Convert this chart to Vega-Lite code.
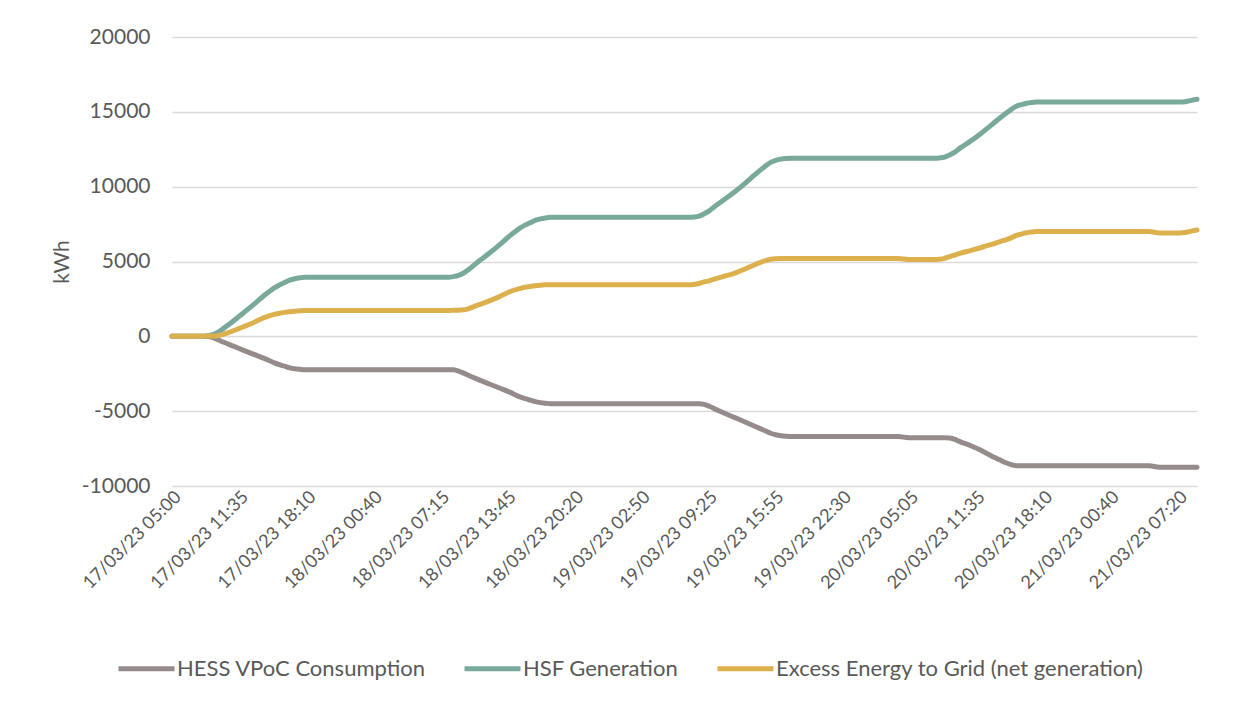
{
  "$schema": "https://vega.github.io/schema/vega-lite/v6.json",
  "width": 1025,
  "height": 449,
  "autosize": {"type": "none"},
  "padding": {"left": 172, "top": 37, "right": 44, "bottom": 216},
  "background": "white",
  "config": {"view": {"stroke": null}, "font": "Lato"},
  "data": {"values": [
    {"t": "2023-03-17T05:00", "hess": 0, "hsf": 0, "excess": 0},
    {"t": "2023-03-17T08:00", "hess": 0, "hsf": 0, "excess": 0},
    {"t": "2023-03-17T08:30", "hess": -10, "hsf": 40, "excess": 30},
    {"t": "2023-03-17T09:00", "hess": -90, "hsf": 120, "excess": 30},
    {"t": "2023-03-17T09:30", "hess": -230, "hsf": 275, "excess": 45},
    {"t": "2023-03-17T10:00", "hess": -380, "hsf": 515, "excess": 135},
    {"t": "2023-03-17T11:00", "hess": -655, "hsf": 1030, "excess": 375},
    {"t": "2023-03-17T12:00", "hess": -935, "hsf": 1580, "excess": 645},
    {"t": "2023-03-17T13:00", "hess": -1205, "hsf": 2135, "excess": 930},
    {"t": "2023-03-17T14:00", "hess": -1470, "hsf": 2725, "excess": 1255},
    {"t": "2023-03-17T15:00", "hess": -1770, "hsf": 3240, "excess": 1470},
    {"t": "2023-03-17T15:30", "hess": -1890, "hsf": 3435, "excess": 1545},
    {"t": "2023-03-17T16:00", "hess": -1995, "hsf": 3595, "excess": 1600},
    {"t": "2023-03-17T16:30", "hess": -2105, "hsf": 3750, "excess": 1645},
    {"t": "2023-03-17T17:00", "hess": -2170, "hsf": 3850, "excess": 1680},
    {"t": "2023-03-17T17:30", "hess": -2205, "hsf": 3910, "excess": 1705},
    {"t": "2023-03-17T18:00", "hess": -2230, "hsf": 3950, "excess": 1720},
    {"t": "2023-03-18T07:30", "hess": -2230, "hsf": 3950, "excess": 1720},
    {"t": "2023-03-18T08:00", "hess": -2230, "hsf": 3950, "excess": 1720},
    {"t": "2023-03-18T08:30", "hess": -2240, "hsf": 3990, "excess": 1750},
    {"t": "2023-03-18T09:00", "hess": -2320, "hsf": 4070, "excess": 1750},
    {"t": "2023-03-18T09:30", "hess": -2460, "hsf": 4230, "excess": 1770},
    {"t": "2023-03-18T10:00", "hess": -2615, "hsf": 4470, "excess": 1855},
    {"t": "2023-03-18T11:00", "hess": -2910, "hsf": 5030, "excess": 2120},
    {"t": "2023-03-18T12:00", "hess": -3185, "hsf": 5550, "excess": 2365},
    {"t": "2023-03-18T13:00", "hess": -3455, "hsf": 6110, "excess": 2655},
    {"t": "2023-03-18T14:00", "hess": -3730, "hsf": 6710, "excess": 2980},
    {"t": "2023-03-18T15:00", "hess": -4040, "hsf": 7230, "excess": 3190},
    {"t": "2023-03-18T15:30", "hess": -4155, "hsf": 7430, "excess": 3275},
    {"t": "2023-03-18T16:00", "hess": -4255, "hsf": 7590, "excess": 3335},
    {"t": "2023-03-18T16:30", "hess": -4365, "hsf": 7750, "excess": 3385},
    {"t": "2023-03-18T17:00", "hess": -4430, "hsf": 7850, "excess": 3420},
    {"t": "2023-03-18T17:30", "hess": -4470, "hsf": 7910, "excess": 3440},
    {"t": "2023-03-18T18:00", "hess": -4500, "hsf": 7950, "excess": 3450},
    {"t": "2023-03-19T07:30", "hess": -4500, "hsf": 7950, "excess": 3450},
    {"t": "2023-03-19T08:00", "hess": -4500, "hsf": 7970, "excess": 3470},
    {"t": "2023-03-19T08:30", "hess": -4500, "hsf": 8030, "excess": 3530},
    {"t": "2023-03-19T09:00", "hess": -4545, "hsf": 8185, "excess": 3640},
    {"t": "2023-03-19T09:30", "hess": -4675, "hsf": 8385, "excess": 3710},
    {"t": "2023-03-19T10:00", "hess": -4830, "hsf": 8660, "excess": 3830},
    {"t": "2023-03-19T11:00", "hess": -5140, "hsf": 9160, "excess": 4020},
    {"t": "2023-03-19T12:00", "hess": -5430, "hsf": 9660, "excess": 4230},
    {"t": "2023-03-19T13:00", "hess": -5720, "hsf": 10220, "excess": 4500},
    {"t": "2023-03-19T14:00", "hess": -6020, "hsf": 10820, "excess": 4800},
    {"t": "2023-03-19T15:00", "hess": -6320, "hsf": 11380, "excess": 5060},
    {"t": "2023-03-19T15:30", "hess": -6475, "hsf": 11625, "excess": 5150},
    {"t": "2023-03-19T16:00", "hess": -6575, "hsf": 11760, "excess": 5185},
    {"t": "2023-03-19T16:30", "hess": -6640, "hsf": 11840, "excess": 5200},
    {"t": "2023-03-19T17:00", "hess": -6680, "hsf": 11880, "excess": 5200},
    {"t": "2023-03-19T17:30", "hess": -6700, "hsf": 11900, "excess": 5200},
    {"t": "2023-03-19T18:00", "hess": -6700, "hsf": 11900, "excess": 5200},
    {"t": "2023-03-20T04:00", "hess": -6700, "hsf": 11900, "excess": 5200},
    {"t": "2023-03-20T05:00", "hess": -6770, "hsf": 11900, "excess": 5130},
    {"t": "2023-03-20T07:30", "hess": -6770, "hsf": 11900, "excess": 5130},
    {"t": "2023-03-20T08:00", "hess": -6770, "hsf": 11920, "excess": 5150},
    {"t": "2023-03-20T08:30", "hess": -6770, "hsf": 11975, "excess": 5205},
    {"t": "2023-03-20T09:00", "hess": -6795, "hsf": 12125, "excess": 5330},
    {"t": "2023-03-20T09:30", "hess": -6880, "hsf": 12310, "excess": 5430},
    {"t": "2023-03-20T10:00", "hess": -7035, "hsf": 12575, "excess": 5540},
    {"t": "2023-03-20T11:00", "hess": -7295, "hsf": 13025, "excess": 5730},
    {"t": "2023-03-20T12:00", "hess": -7600, "hsf": 13520, "excess": 5920},
    {"t": "2023-03-20T13:00", "hess": -7960, "hsf": 14080, "excess": 6120},
    {"t": "2023-03-20T14:00", "hess": -8290, "hsf": 14640, "excess": 6350},
    {"t": "2023-03-20T14:30", "hess": -8450, "hsf": 14900, "excess": 6450},
    {"t": "2023-03-20T15:00", "hess": -8570, "hsf": 15150, "excess": 6580},
    {"t": "2023-03-20T15:30", "hess": -8640, "hsf": 15380, "excess": 6740},
    {"t": "2023-03-20T16:00", "hess": -8650, "hsf": 15480, "excess": 6830},
    {"t": "2023-03-20T16:30", "hess": -8650, "hsf": 15570, "excess": 6920},
    {"t": "2023-03-20T17:00", "hess": -8650, "hsf": 15625, "excess": 6975},
    {"t": "2023-03-20T17:30", "hess": -8650, "hsf": 15650, "excess": 7000},
    {"t": "2023-03-20T18:00", "hess": -8650, "hsf": 15650, "excess": 7000},
    {"t": "2023-03-21T04:30", "hess": -8650, "hsf": 15650, "excess": 7000},
    {"t": "2023-03-21T05:30", "hess": -8740, "hsf": 15650, "excess": 6910},
    {"t": "2023-03-21T07:30", "hess": -8740, "hsf": 15650, "excess": 6910},
    {"t": "2023-03-21T08:00", "hess": -8740, "hsf": 15680, "excess": 6940},
    {"t": "2023-03-21T08:30", "hess": -8740, "hsf": 15750, "excess": 7010},
    {"t": "2023-03-21T09:10", "hess": -8740, "hsf": 15840, "excess": 7100}
  ]},
  "transform": [{"fold": ["hess", "hsf", "excess"], "as": ["series", "kWh"]}],
  "mark": {"type": "line", "interpolate": "monotone", "strokeWidth": 5, "strokeCap": "round", "strokeJoin": "round"},
  "encoding": {
    "x": {
      "field": "t", "type": "temporal",
      "scale": {"domain": [
        {"year": 2023, "month": 3, "date": 17, "hours": 5, "minutes": 0},
        {"year": 2023, "month": 3, "date": 21, "hours": 9, "minutes": 10}
      ]},
      "axis": {
        "title": null,
        "values": [
          {"year": 2023, "month": 3, "date": 17, "hours": 5, "minutes": 0},
          {"year": 2023, "month": 3, "date": 17, "hours": 11, "minutes": 35},
          {"year": 2023, "month": 3, "date": 17, "hours": 18, "minutes": 10},
          {"year": 2023, "month": 3, "date": 18, "hours": 0, "minutes": 40},
          {"year": 2023, "month": 3, "date": 18, "hours": 7, "minutes": 15},
          {"year": 2023, "month": 3, "date": 18, "hours": 13, "minutes": 45},
          {"year": 2023, "month": 3, "date": 18, "hours": 20, "minutes": 20},
          {"year": 2023, "month": 3, "date": 19, "hours": 2, "minutes": 50},
          {"year": 2023, "month": 3, "date": 19, "hours": 9, "minutes": 25},
          {"year": 2023, "month": 3, "date": 19, "hours": 15, "minutes": 55},
          {"year": 2023, "month": 3, "date": 19, "hours": 22, "minutes": 30},
          {"year": 2023, "month": 3, "date": 20, "hours": 5, "minutes": 5},
          {"year": 2023, "month": 3, "date": 20, "hours": 11, "minutes": 35},
          {"year": 2023, "month": 3, "date": 20, "hours": 18, "minutes": 10},
          {"year": 2023, "month": 3, "date": 21, "hours": 0, "minutes": 40},
          {"year": 2023, "month": 3, "date": 21, "hours": 7, "minutes": 20}
        ],
        "format": "%d/%m/%y %H:%M",
        "labelAngle": -45,
        "labelAlign": "right",
        "labelBaseline": "middle",
        "labelFontSize": 18,
        "labelColor": "#595959",
        "labelPadding": 8,
        "labelOffset": 6,
        "labelOverlap": false,
        "labelFlush": false,
        "grid": false,
        "domain": false,
        "ticks": false,
        "tickSize": 0
      }
    },
    "y": {
      "field": "kWh", "type": "quantitative",
      "scale": {"domain": [-10000, 20000], "nice": false, "zero": false},
      "axis": {
        "title": "kWh",
        "titleFontSize": 21,
        "titleFontWeight": "normal",
        "titleColor": "#595959",
        "titleX": -110,
        "titleY": 224.5,
        "titleAngle": 270,
        "titleAlign": "center",
        "titleBaseline": "middle",
        "values": [-10000, -5000, 0, 5000, 10000, 15000, 20000],
        "labelExpr": "'' + datum.value",
        "labelFontSize": 21,
        "labelColor": "#595959",
        "labelPadding": 22,
        "grid": true,
        "gridColor": "#D9D9D9",
        "gridWidth": 1.3,
        "domain": false,
        "ticks": false,
        "tickSize": 0
      }
    },
    "color": {
      "field": "series", "type": "nominal",
      "scale": {"domain": ["hess", "hsf", "excess"], "range": ["#958B8B", "#78A99A", "#DDB04E"]},
      "legend": {
        "title": null,
        "orient": "none",
        "legendX": -56,
        "legendY": 601,
        "direction": "horizontal",
        "symbolType": "stroke",
        "symbolStrokeWidth": 5,
        "symbolSize": 3136,
        "labelFontSize": 22,
        "labelColor": "#595959",
        "labelOffset": 0,
        "columnPadding": 28,
        "padding": 0,
        "labelLimit": 700,
        "labelExpr": "datum.label == 'hess' ? 'HESS VPoC Consumption' : datum.label == 'hsf' ? 'HSF Generation' : 'Excess Energy to Grid (net generation)'"
      }
    }
  }
}
